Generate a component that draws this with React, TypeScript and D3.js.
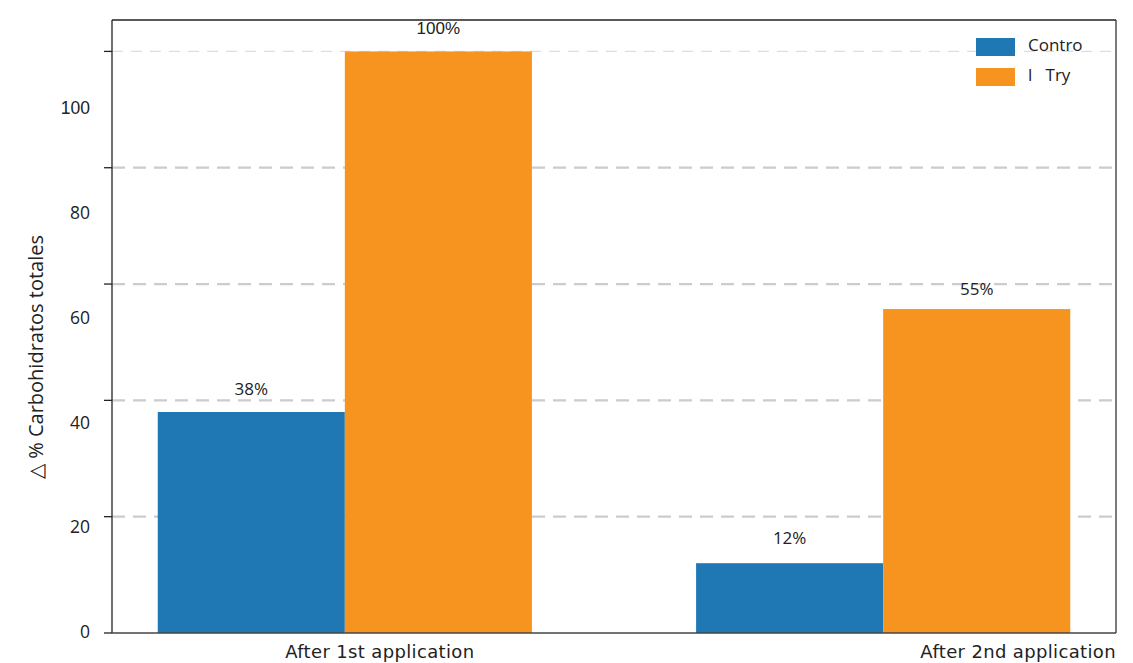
import React from "react";
import * as d3 from "d3";

const categories = ["After 1st application", "After 2nd application"];
const seriesNames = ["Control", "Try"];
const legendLabels = ["Contro", "l   Try"];
const controlValues = [38, 12];
const tryValues = [100, 55.7];
const valueLabels = [["38%", "100%"], ["12%", "55%"]];
const gridValues = [20, 40, 60, 80, 100];
const tickValues = [0, 20, 40, 60, 80, 100];
const tickLabels = ["0", "20", "40", "60", "80", "100"];
const colors = ["#1f77b4", "#f7941f"];

const W = 1133, H = 663;
const left = 112, right = 1116, top = 20, bottom = 633;

export default function App() {
  const y = d3.scaleLinear().domain([0, 105.4]).range([bottom, top]);
  const yLabel = d3.scaleLinear().domain([0, 116.8]).range([bottom - 1, top]);
  const x0 = d3.scaleBand<string>().domain(categories).range([left, right]).paddingInner(0.305).paddingOuter(0.085);
  const x1 = d3.scaleBand<string>().domain(seriesNames).range([0, x0.bandwidth()]);
  const data = categories.map((c, i) => ({ c, vals: [controlValues[i], tryValues[i]] }));
  const catOffsets = [35, 135];
  const labelGap = [[17, 17], [19, 14]];
  const font = "'Open Sans', sans-serif";
  return (
    <svg width={W} height={H} style={{ position: "absolute", left: 0, top: 0, background: "#fff" }}>
      {gridValues.map((v) => (
        <line key={v} x1={left} x2={right} y1={y(v)} y2={y(v)}
          stroke={v === 100 ? "#dddddd" : "#cccccc"} strokeWidth={v === 100 ? 1.2 : 2.2}
          strokeDasharray={v === 100 ? "11,8" : "13,8"} />
      ))}
      {data.map((d, i) => (
        <g key={d.c} transform={`translate(${x0(d.c)},0)`}>
          {d.vals.map((v, j) => (
            <rect key={j} x={x1(seriesNames[j])} y={y(v)} width={x1.bandwidth()} height={bottom - y(v)} fill={colors[j]} />
          ))}
          {d.vals.map((v, j) => (
            <text key={"t" + j} x={(x1(seriesNames[j]) as number) + x1.bandwidth() / 2} y={y(v) - labelGap[i][j]}
              textAnchor="middle" fontSize={17}
              fontFamily={valueLabels[i][j] === "100%" ? "'Liberation Sans', Arial, sans-serif" : font}
              fill="#222">{valueLabels[i][j]}</text>
          ))}
        </g>
      ))}
      <line x1={left} x2={left} y1={top} y2={bottom} stroke="#222" strokeWidth={1.3} />
      <line x1={left} x2={right} y1={top} y2={top} stroke="#222" strokeWidth={1.3} />
      <line x1={right} x2={right} y1={top} y2={bottom} stroke="#333" strokeWidth={1.3} />
      <line x1={left} x2={right} y1={bottom} y2={bottom} stroke="#444" strokeWidth={1.5} />
      {tickValues.map((v) => (
        <line key={v} x1={left - 8} x2={left} y1={y(v)} y2={y(v)} stroke="#222" strokeWidth={1.3} />
      ))}
      {tickValues.map((v, i) => (
        <text key={v} x={90} y={yLabel(v)} dy="0.35em" textAnchor="end" fontSize={17.5}
          fontFamily={v === 100 ? "'Liberation Sans', Arial, sans-serif" : font} fill="#222">{tickLabels[i]}</text>
      ))}
      <text transform={`translate(43,357) rotate(-90)`} textAnchor="middle" fontSize={20} fontFamily={font} fill="#222">
        △ % Carbohidratos totales
      </text>
      {categories.map((c, i) => (
        <text key={c} x={(x0(c) as number) + x0.bandwidth() / 2 + catOffsets[i]} y={658} textAnchor="middle"
          fontSize={18} letterSpacing={0.35} fontFamily="'DejaVu Sans', sans-serif" fill="#222">{c}</text>
      ))}
      {legendLabels.map((l, i) => (
        <g key={i} transform={`translate(976,${38 + i * 30})`}>
          <rect width={39} height={18} fill={colors[i]} />
          <text x={52} y={7} dy="0.35em" fontSize={17} fontFamily={font} fill="#222" style={{ whiteSpace: "pre" }}>{l}</text>
        </g>
      ))}
    </svg>
  );
}
